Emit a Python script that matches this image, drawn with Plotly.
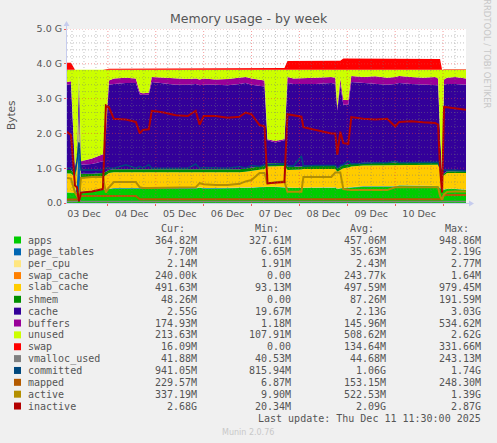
import plotly.graph_objects as go
from datetime import datetime, timedelta

# ---------------- data (values in GiB) ----------------
start_day = datetime(2025, 12, 3)
hours = [3.5, 5.5, 7.5, 8.5, 9.5, 10.5, 16.0, 21.5, 23.0, 24.5,
         27.0, 33.0, 38.0, 40.0, 41.5, 44.5, 46.0, 52.0, 58.0, 64.0,
         68.0, 70.0, 72.0, 78.0, 84.0, 90.0, 93.0, 96.0, 100.0, 102.5,
         104.0, 108.0, 112.5, 114.0, 117.0, 121.0, 122.0, 128.0, 136.0, 138.0,
         139.0, 140.5, 142.0, 144.5, 146.0, 152.0, 158.0, 164.0, 168.0, 170.0,
         176.0, 182.0, 188.0, 189.5, 190.5, 191.5, 192.5, 194.0, 198.0, 203.5]

apps = [.30, .30, .28, .28, .30, .32, .35, .36, .38, .40,
        .42, .42, .42, .40, .42, .42, .42, .42, .42, .42,
        .42, .44, .42, .42, .42, .42, .43, .44, .45, .46,
        .46, .46, .46, .44, .43, .43, .43, .43, .43, .44,
        .40, .42, .43, .44, .45, .47, .47, .47, .47, .50,
        .50, .50, .50, .48, .42, .40, .38, .40, .40, .37]
page_tables = [.008, .008, .008, .30, 1.90, .010, .008, .008, .008, .008,
               .008, .008, .008, .008, .008, .008, .008, .008, .008, .008,
               .008, .008, .008, .008, .008, .008, .008, .008, .008, .008,
               .008, .008, .008, .008, .008, .008, .008, .008, .008, .008,
               .008, .008, .008, .008, .008, .008, .008, .008, .008, .008,
               .008, .008, .008, .008, .008, .008, .008, .008, .008, .008]
per_cpu = [.002, .002, .002, .002, .002, .002, .002, .002, .002, .002,
           .002, .002, .002, .002, .002, .002, .002, .002, .002, .002,
           .002, .002, .002, .002, .002, .002, .002, .002, .002, .002,
           .002, .002, .002, .002, .002, .002, .002, .002, .002, .002,
           .002, .002, .002, .002, .002, .002, .002, .002, .002, .002,
           .002, .002, .002, .002, .002, .002, .002, .002, .002, .002]
swap_cache = [.0002, .0002, .0002, .0002, .0002, .0002, .0002, .0002, .0002, .0002,
              .0002, .0002, .0002, .0002, .0002, .0002, .0002, .0002, .0002, .0002,
              .0002, .0002, .0002, .0002, .0002, .0002, .0002, .0002, .0002, .0002,
              .0002, .0002, .0002, .0002, .0002, .0002, .0002, .0002, .0002, .0002,
              .0002, .0002, .0002, .0002, .0002, .0002, .0002, .0002, .0002, .0002,
              .0002, .0002, .0002, .0002, .0002, .0002, .0002, .0002, .0002, .0002]
slab_cache = [.54, .54, .46, .42, .42, .39, .36, .37, .41, .45,
              .45, .45, .45, .46, .44, .45, .45, .44, .43, .44,
              .45, .43, .44, .44, .45, .45, .46, .47, .49, .51,
              .58, .59, .59, .50, .51, .52, .54, .54, .54, .53,
              .49, .52, .56, .57, .59, .60, .60, .60, .60, .59,
              .59, .59, .59, .61, .57, .34, .41, .45, .45, .48]
shmem = [.10, .10, .10, .10, .08, .12, .12, .12, .10, .09,
         .09, .09, .09, .09, .09, .09, .09, .09, .09, .09,
         .09, .09, .09, .09, .09, .09, .09, .09, .09, .09,
         .09, .09, .09, .09, .09, .09, .09, .09, .09, .09,
         .09, .09, .09, .09, .08, .08, .08, .08, .08, .08,
         .08, .08, .08, .08, .07, .05, .05, .05, .05, .05]
cache = [2.45, 2.47, .15, .20, .92, .26, .28, .34, 1.10, 2.45,
         2.45, 2.48, 2.48, 2.16, 2.14, 2.15, 2.51, 2.49, 2.45, 2.44,
         2.45, 2.41, 2.44, 2.44, 2.41, 2.45, 2.46, 2.39, 2.34, 2.28,
         .66, .59, .65, 2.41, 2.38, 2.37, 2.33, 2.35, 2.38, 2.35,
         1.66, 2.36, 1.73, 1.71, 2.35, 2.29, 2.28, 2.24, 2.26, 2.27,
         2.24, 2.22, 2.22, 2.20, .93, .02, 2.55, 2.51, 2.51, 2.49]
buffers = [.08, .08, .05, .05, .06, .10, .16, .20, .20, .12,
           .16, .15, .13, .06, .05, .05, .14, .15, .18, .16,
           .16, .17, .18, .15, .18, .18, .17, .18, .17, .17,
           .03, .04, .04, .17, .16, .16, .18, .18, .17, .18,
           .07, .18, .14, .14, .17, .17, .20, .20, .20, .20,
           .20, .20, .22, .20, .05, .00, .15, .18, .20, .18]
unused = [.35, .33, 2.78, 2.48, .15, 2.63, 2.55, 2.43, 1.63, .31,
          .25, .23, .25, .65, .68, .66, .21, .23, .25, .27,
          .25, .28, .25, .28, .27, .23, .21, .25, .28, .31,
          2.00, 2.05, 1.99, .21, .25, .25, .25, .23, .21, .23,
          1.11, .25, .87, .87, .18, .21, .19, .23, .21, .18,
          .21, .23, .21, .25, 1.78, 3.01, .28, .23, .21, .25]
swap = [.20, .20, 0, 0, 0, 0, 0, 0, .02, .03,
        .03, .03, .03, .03, .04, .04, .04, .04, .04, .04,
        .04, .04, .04, .04, .04, .04, .04, .04, .05, .05,
        .05, .05, .05, .25, .25, .25, .25, .25, .26, .26,
        .26, .26, .32, .32, .32, .32, .33, .33, .31, .31,
        .31, .31, .31, .31, .31, 0, .016, .016, .016, .016]
vmalloc_used = [.04, .04, .04, .04, .10, .04, .04, .04, .04, .04,
                .04, .04, .04, .04, .04, .04, .04, .04, .04, .04,
                .04, .04, .04, .04, .04, .04, .04, .04, .04, .04,
                .04, .04, .04, .04, .04, .04, .04, .04, .04, .04,
                .04, .04, .04, .04, .04, .04, .04, .04, .04, .04,
                .04, .04, .04, .04, .04, .04, .04, .04, .04, .04]
committed = [1.0, 1.0, .90, 1.2, 1.74, .95, .95, .95, 1.0, 1.0,
             1.0, 1.1, 1.0, 1.05, 1.0, 1.1, 1.0, 1.0, 1.0, 1.0,
             1.12, 1.0, 1.02, 1.0, 1.0, 1.05, 1.0, 1.08, 1.05, 1.1,
             1.1, 1.12, 1.12, 1.08, 1.06, 1.35, 1.06, 1.08, 1.08, 1.08,
             1.0, 1.08, 1.1, 1.2, 1.12, 1.15, 1.16, 1.16, 1.2, 1.16,
             1.16, 1.16, 1.17, 1.17, 1.0, .90, .95, .94, .94, .92]
mapped = [.10, .10, .10, .10, .10, .20, .20, .20, .20, .20,
          .20, .20, .20, .11, .11, .11, .11, .11, .11, .11,
          .11, .11, .11, .11, .11, .11, .11, .11, .11, .11,
          .11, .11, .11, .11, .11, .11, .11, .11, .11, .11,
          .11, .11, .11, .11, .11, .11, .11, .11, .11, .11,
          .11, .11, .11, .11, .11, .11, .23, .23, .23, .23]
active = [.72, .70, .30, .20, .10, .72, .75, .75, .30, .45,
          .60, .60, .60, .45, .43, .43, .43, .44, .43, .45,
          .45, .57, .54, .52, .52, .55, .62, .66, .86, .86,
          .55, .60, .62, .32, .32, .32, .75, .75, .75, .88,
          .88, .88, .40, .37, .37, .37, .37, .37, .45, .45,
          .45, .46, .45, .45, .20, .10, .25, .32, .33, .33]
inactive = [2.05, 1.95, .50, .45, .05, .30, .33, .40, 2.80, 2.75,
            2.42, 2.40, 2.33, 2.00, 2.10, 2.12, 2.65, 2.60, 2.52, 2.50,
            2.65, 2.25, 2.50, 2.50, 2.45, 2.48, 2.60, 2.55, 2.24, 2.20,
            .57, .58, .60, 2.55, 2.52, 2.48, 2.18, 2.10, 2.00, 2.00,
            1.38, 2.05, 1.72, 1.70, 2.47, 2.42, 2.40, 2.42, 2.20, 2.33,
            2.35, 2.32, 2.30, 2.25, 1.00, .30, 2.76, 2.75, 2.72, 2.68]

legend_names = ["apps", "page_tables", "per_cpu", "swap_cache", "slab_cache", "shmem",
                "cache", "buffers", "unused", "swap", "vmalloc_used", "committed",
                "mapped", "active", "inactive"]
legend_colors = ["#00CC00", "#0066B3", "#FFE680", "#FF8000", "#FFCC00", "#008F00",
                 "#330099", "#990099", "#CCFF00", "#FF0000", "#808080", "#00487D",
                 "#B35A00", "#B38F00", "#B30000"]
cur_vals = ["364.82M", "7.70M", "2.14M", "240.00k", "491.63M", "48.26M", "2.55G", "174.93M",
            "213.63M", "16.09M", "41.88M", "941.05M", "229.57M", "337.19M", "2.68G"]
min_vals = ["327.61M", "6.65M", "1.91M", "0.00", "93.13M", "0.00", "19.67M", "1.18M",
            "107.91M", "0.00", "40.53M", "815.94M", "6.87M", "9.90M", "20.34M"]
avg_vals = ["457.06M", "35.63M", "2.43M", "243.77k", "497.59M", "87.26M", "2.13G", "145.96M",
            "508.62M", "134.64M", "44.68M", "1.06G", "153.15M", "522.53M", "2.09G"]
max_vals = ["948.86M", "2.19G", "2.77M", "1.64M", "979.45M", "191.59M", "3.03G", "534.62M",
            "2.62G", "331.66M", "243.13M", "1.74G", "248.30M", "1.39G", "2.87G"]
y_tick_vals = [0, 1, 2, 3, 4, 5]
y_tick_text = ["0.0", "1.0 G", "2.0 G", "3.0 G", "4.0 G", "5.0 G"]

# ---------------- figure ----------------
W, H = 497, 443
L, R, T, B = 67, 466, 29, 203


def PX(x):
    return (x - L) / (R - L)


def PY(y):
    return (B - y) / (B - T)


times = [start_day + timedelta(hours=h) for h in hours]
x_start = times[0]
x_end = times[-1]

fig = go.Figure()
stack_series = [apps, page_tables, per_cpu, swap_cache, slab_cache, shmem,
                cache, buffers, unused, swap]
for i, vals in enumerate(stack_series):
    c = legend_colors[i]
    fig.add_trace(go.Scatter(x=times, y=vals, stackgroup="mem", mode="lines",
                             line=dict(width=0, color=c), fillcolor=c,
                             hoverinfo="skip", showlegend=False))
line_series = [vmalloc_used, committed, mapped, active, inactive]
line_widths = [1.5, 1.5, 2, 2, 2]
for j, vals in enumerate(line_series):
    c = legend_colors[10 + j]
    fig.add_trace(go.Scatter(x=times, y=vals, mode="lines",
                             line=dict(width=line_widths[j], color=c),
                             hoverinfo="skip", showlegend=False))

shapes = []
minor_col = "rgba(120,120,120,0.45)"
major_col = "rgba(235,60,60,0.5)"
# horizontal grid
for k in range(1, 26):
    yv = k * 0.2
    major = (k % 5 == 0)
    shapes.append(dict(type="line", xref="paper", yref="y", x0=0, x1=1, y0=yv, y1=yv,
                       line=dict(color=major_col if major else minor_col, width=1,
                                 dash="1px,2px"), layer="above"))
# vertical grid
for d in range(0, 9):
    for q in range(4):
        t = start_day + timedelta(days=d, hours=6 * q)
        if t <= x_start or t >= x_end:
            continue
        major = (q == 0)
        shapes.append(dict(type="line", xref="x", yref="paper", x0=t, x1=t, y0=0, y1=1,
                           line=dict(color=major_col if major else minor_col, width=1,
                                     dash="1px,2px"), layer="above"))

axis_col = "#C6CCEE"
# axis lines and arrows
shapes.append(dict(type="line", xref="paper", yref="paper", x0=PX(66), x1=PX(469),
                   y0=PY(203.5), y1=PY(203.5), line=dict(color=axis_col, width=1), layer="above"))
shapes.append(dict(type="line", xref="paper", yref="paper", x0=PX(66.5), x1=PX(66.5),
                   y0=PY(204), y1=PY(25), line=dict(color=axis_col, width=1), layer="above"))
shapes.append(dict(type="path", xref="paper", yref="paper",
                   path=f"M {PX(469)} {PY(200.5)} L {PX(474)} {PY(203.5)} L {PX(469)} {PY(206.5)} Z",
                   fillcolor=axis_col, line=dict(width=0), layer="above"))
shapes.append(dict(type="path", xref="paper", yref="paper",
                   path=f"M {PX(63.5)} {PY(26)} L {PX(66.5)} {PY(21)} L {PX(69.5)} {PY(26)} Z",
                   fillcolor=axis_col, line=dict(width=0), layer="above"))

annotations = []
txt_col = "#555555"
mono = "DejaVu Sans Mono"
# title
annotations.append(dict(x=PX(249), y=PY(19), xref="paper", yref="paper", text="Memory usage - by week",
                        showarrow=False, font=dict(family="DejaVu Sans", size=12.5, color=txt_col),
                        xanchor="center", yanchor="middle"))
# y label
annotations.append(dict(x=PX(11), y=PY(116), xref="paper", yref="paper", text="Bytes", textangle=-90,
                        showarrow=False, font=dict(family="DejaVu Sans", size=10.5, color=txt_col),
                        xanchor="center", yanchor="middle"))
# rrdtool credit
annotations.append(dict(x=PX(487), y=PY(54), xref="paper", yref="paper", text="RRDTOOL / TOBI OETIKER",
                        textangle=90, showarrow=False,
                        font=dict(family="DejaVu Sans", size=8.5, color="#C8C8C8"),
                        xanchor="center", yanchor="middle"))

col_right = [199, 293, 388, 483]
headers = ["Cur:", "Min:", "Avg:", "Max:"]
for cx, htxt in zip(col_right, headers):
    annotations.append(dict(x=PX(cx - 12), y=PY(228), xref="paper", yref="paper", text=htxt,
                            showarrow=False, font=dict(family=mono, size=10, color=txt_col),
                            xanchor="right", yanchor="middle"))
row0, dy = 240, 11.86
for i, name in enumerate(legend_names):
    yy = row0 + i * dy
    shapes.append(dict(type="rect", xref="paper", yref="paper", x0=PX(14), x1=PX(21),
                       y0=PY(yy - 3.5), y1=PY(yy + 3.5), fillcolor=legend_colors[i],
                       line=dict(width=0)))
    annotations.append(dict(x=PX(26), y=PY(yy), xref="paper", yref="paper", text=name,
                            showarrow=False, font=dict(family=mono, size=10, color=txt_col),
                            xanchor="left", yanchor="middle"))
    for cx, vals in zip(col_right, [cur_vals, min_vals, avg_vals, max_vals]):
        annotations.append(dict(x=PX(cx), y=PY(yy), xref="paper", yref="paper", text=vals[i],
                                showarrow=False, font=dict(family=mono, size=10, color=txt_col),
                                xanchor="right", yanchor="middle"))
annotations.append(dict(x=PX(483), y=PY(419), xref="paper", yref="paper",
                        text="Last update: Thu Dec 11 11:30:00 2025",
                        showarrow=False, font=dict(family=mono, size=10, color=txt_col),
                        xanchor="right", yanchor="middle"))
annotations.append(dict(x=PX(248), y=PY(432), xref="paper", yref="paper", text="Munin 2.0.76",
                        showarrow=False, font=dict(family="DejaVu Sans", size=8, color="#C8C8C8"),
                        xanchor="center", yanchor="middle"))

fig.update_layout(
    width=W, height=H,
    margin=dict(l=L, r=W - R, t=T, b=H - B, pad=0),
    paper_bgcolor="#F0F0F0", plot_bgcolor="#FFFFFF",
    showlegend=False, hovermode=False,
    shapes=shapes, annotations=annotations,
    xaxis=dict(type="date", range=[x_start, x_end], showgrid=False, zeroline=False,
               dtick=86400000, tick0="2025-12-03", tickformat="%d %b", ticklabelmode="period",
               ticks="outside", ticklen=2, tickcolor="rgba(235,60,60,0.8)",
               tickfont=dict(family="DejaVu Sans", size=9.5, color=txt_col), showline=False),
    yaxis=dict(range=[0, 5], tickvals=y_tick_vals, ticktext=y_tick_text, showgrid=False,
               zeroline=False, ticks="outside", ticklen=2, tickcolor="rgba(235,60,60,0.8)",
               tickfont=dict(family="DejaVu Sans", size=9.5, color=txt_col), showline=False),
)

fig.write_html("out.html", config={"displayModeBar": False, "staticPlot": True},
               post_script="document.body.style.margin='0px';document.body.style.padding='0px';"
                           "document.body.style.background='#F0F0F0';")
